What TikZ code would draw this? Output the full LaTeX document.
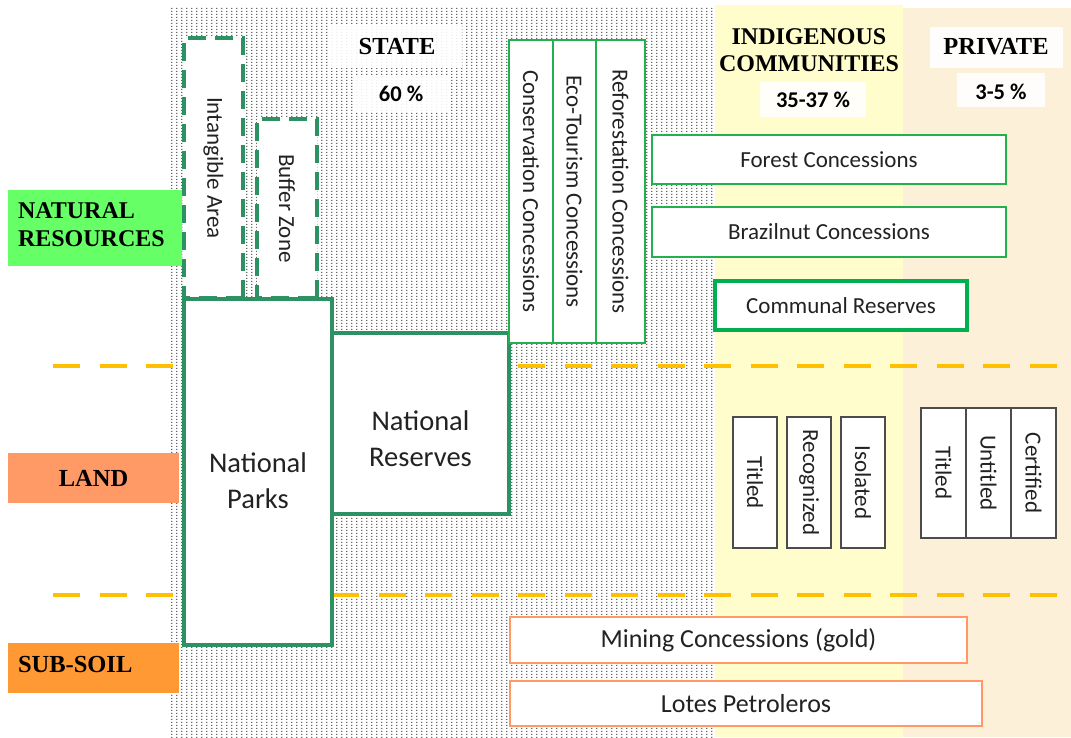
\documentclass[tikz,border=0pt]{standalone}
\usepackage{fontspec}
\setmainfont{Carlito}
\newfontfamily\hfont{Liberation Serif}
\usetikzlibrary{patterns}
\pgfdeclarepatternformonly{stipple}{\pgfqpoint{0pt}{0pt}}{\pgfqpoint{4.5pt}{3.3pt}}{\pgfqpoint{4.5pt}{3.3pt}}{%
  \pgfpathrectangle{\pgfqpoint{0pt}{0pt}}{\pgfqpoint{1.4pt}{1.4pt}}\pgfusepath{fill}}
\definecolor{dkgreen}{HTML}{2E9163}
\definecolor{brgreen}{HTML}{22B14C}
\definecolor{cgreen}{HTML}{00B050}
\definecolor{salm}{HTML}{FF9966}
\definecolor{landc}{HTML}{FF9966}
\definecolor{soilc}{HTML}{FF9933}
\definecolor{natc}{HTML}{66FF66}
\definecolor{dashc}{HTML}{FFC000}
\definecolor{yel}{HTML}{FFFDCB}
\definecolor{beige}{HTML}{FCF0D9}
\definecolor{txt}{HTML}{222222}
\begin{document}
\begin{tikzpicture}[x=1pt,y=-1pt,
  every node/.style={inner sep=0pt, outer sep=0pt, text=txt},
  sm/.style={font=\fontsize{23}{26}\selectfont},
  md/.style={font=\fontsize{26}{30}\selectfont},
  lg/.style={font=\fontsize{28.5}{36}\selectfont, align=center},
  head/.style={font=\hfont\bfseries\fontsize{24.5}{28}\selectfont, text=black},
  pct/.style={font=\bfseries\fontsize{22.5}{26}\selectfont, text=black},
  dashbox/.style={draw=dkgreen, line width=4, dash pattern=on 18 off 9, fill=white},
  parkbox/.style={draw=dkgreen, line width=3.5, fill=white},
  concbox/.style={draw=brgreen, line width=2.5, fill=white},
  commbox/.style={draw=cgreen, line width=3.5, fill=white},
  graybox/.style={draw=black!70, line width=1.5, fill=white},
  soilbox/.style={draw=salm, line width=2.5, fill=white},
  whitebg/.style={fill=white, fill opacity=0.9, text opacity=1},
  tierline/.style={draw=dashc, line width=4.5, dash pattern=on 27 off 19.5},
  tierlbl/.style={minimum width=171, minimum height=50}
]
\useasboundingbox (0,0) rectangle (1071,737);
% background regions
\fill[white] (0,0) rectangle (1071,737);
\fill[white] (171,7) rectangle (715,737);
\fill[pattern=stipple, pattern color=black!60] (171,7) rectangle (715,737);
\fill[yel] (715,5) rectangle (903,737);
\fill[beige] (903,8) rectangle (1071,737);
% tier lines
\draw[tierline] (53,366) -- (1071,366);
\draw[tierline] (53,595) -- (1071,595);
% headers
\node[whitebg, minimum width=134, minimum height=43] (statebox) at (395,46.5) {};
\node[head] (state) at (397,47) {STATE};
\node[whitebg, minimum width=93, minimum height=36] (sixtybox) at (401.5,93) {};
\node[pct] (sixty) at (401,94) {60 \%};
\node[head, align=center, font=\hfont\bfseries\fontsize{24}{26.5}\selectfont] (indig) at (809,50) {INDIGENOUS\\COMMUNITIES};
\node[whitebg, minimum width=106, minimum height=35] (icbox) at (813,99.5) {};
\node[pct] (icpct) at (813,100) {35-37 \%};
\node[whitebg, minimum width=133, minimum height=41] (privbox) at (996.5,47.5) {};
\node[head] (priv) at (996,47) {PRIVATE};
\node[whitebg, minimum width=88, minimum height=34] (pvbox) at (1001,90) {};
\node[pct] (pvpct) at (1001,92) {3-5 \%};
% state boxes
\node[dashbox, minimum width=260, minimum height=59, rotate=-90, sm] (intang) at (213.5,168) {Intangible Area};
\node[dashbox, minimum width=179, minimum height=60, rotate=-90, sm] (buffer) at (287,208.5) {Buffer Zone};
\node[parkbox, minimum width=148, minimum height=346, lg] (np) at (258,472) {\rule{0pt}{37pt}National\\Parks};
\node[parkbox, minimum width=177, minimum height=181, lg] (nr) at (420.5,423.5) {\rule{0pt}{50pt}National\\Reserves};
\node[concbox, minimum width=303, minimum height=44, rotate=-90, sm] (cons) at (531,191.5) {Conservation Concessions};
\node[concbox, minimum width=303, minimum height=43, rotate=-90, sm] (eco) at (574.5,191.5) {Eco-Tourism Concessions};
\node[concbox, minimum width=303, minimum height=49, rotate=-90, sm] (refor) at (620.5,191.5) {Reforestation Concessions};
\node[concbox, minimum width=354, minimum height=49, sm] (forest) at (829,159.5) {Forest Concessions};
\node[concbox, minimum width=354, minimum height=50, sm] (brazil) at (829,232) {Brazilnut Concessions};
\node[commbox, minimum width=252, minimum height=49, sm] (communal) at (841,305.5) {Communal Reserves};
% land tenure boxes
\node[graybox, minimum width=131, minimum height=44, rotate=-90, sm] (ititled) at (755,482.5) {Titled};
\node[graybox, minimum width=131, minimum height=44, rotate=-90, sm] (recog) at (809,482.5) {Recognized};
\node[graybox, minimum width=131, minimum height=44, rotate=-90, sm] (isol) at (863,482.5) {Isolated};
\node[graybox, minimum width=130, minimum height=45, rotate=-90, sm] (ptitled) at (943.5,473) {Titled};
\node[graybox, minimum width=130, minimum height=45, rotate=-90, sm] (untitled) at (988.5,473) {Untitled};
\node[graybox, minimum width=130, minimum height=45, rotate=-90, sm] (certified) at (1033.5,473) {Certified};
% sub-soil
\node[soilbox, minimum width=457, minimum height=46, md] (mining) at (738.5,640) {Mining Concessions (gold)};
\node[soilbox, minimum width=472, minimum height=45, md] (lotes) at (746,703.5) {Lotes Petroleros};
% tier labels
\node[fill=natc, minimum width=174, minimum height=76] (natbox) at (95,228) {};
\node[head, align=left, anchor=west, font=\hfont\bfseries\fontsize{24}{28}\selectfont] (nat) at (18,225) {NATURAL\\RESOURCES};
\node[fill=landc, tierlbl, head] (land) at (93.5,478) {LAND};
\node[fill=soilc, tierlbl] (soilbox) at (93.5,668) {};
\node[head, anchor=west] (soil) at (18,664) {SUB-SOIL};
\end{tikzpicture}
\end{document}
